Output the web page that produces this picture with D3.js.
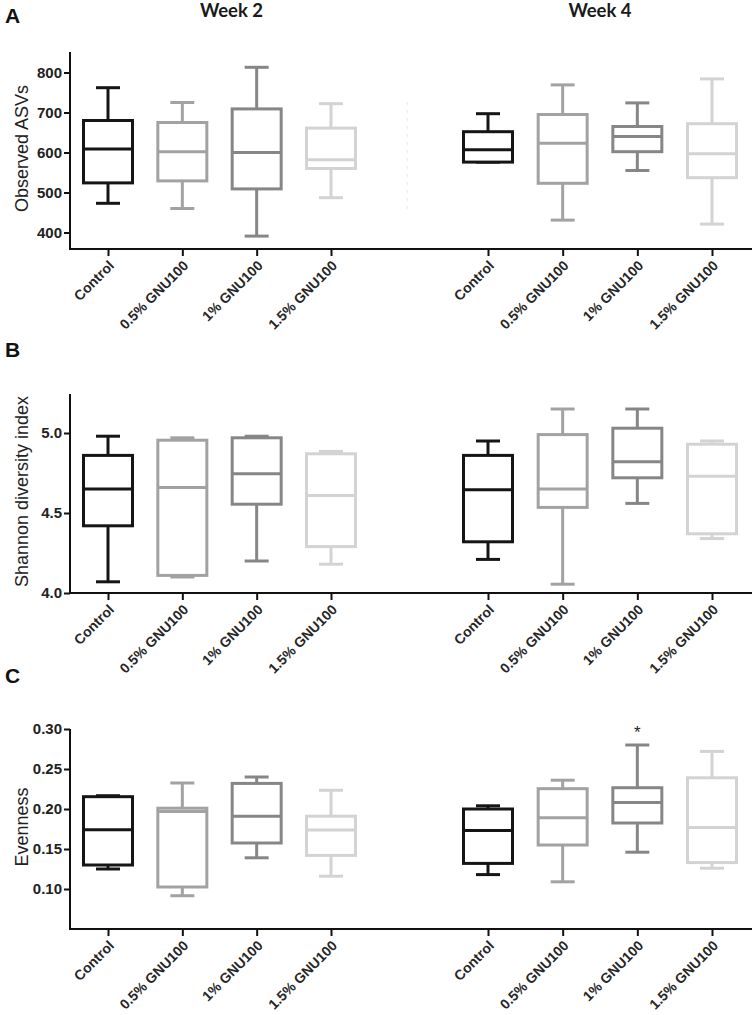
<!DOCTYPE html>
<html><head><meta charset="utf-8">
<script src="https://cdn.jsdelivr.net/npm/d3@7"></script>
<style>body{margin:0;background:#fff}svg{display:block}</style>
</head><body>
<svg id="chart" width="752" height="1015"></svg>
<script>
const categories = ["Control", "0.5% GNU100", "1% GNU100", "1.5% GNU100"];
const weeks = ["Week 2", "Week 4"];
const colors = ["#151515", "#a2a2a2", "#868686", "#d3d3d3"];
// [min, q1, median, q3, max]
const asvWeek2 = [[473,524,609,680,762],[460,529,602,675,725],[391,509,600,709,813],[487,560,582,661,722]];
const asvWeek4 = [[576,576,607,652,697],[431,523,623,695,769],[555,602,640,665,724],[421,537,597,672,784]];
const shannonWeek2 = [[4.07,4.42,4.65,4.86,4.98],[4.10,4.11,4.66,4.955,4.97],[4.20,4.555,4.745,4.97,4.98],[4.18,4.29,4.61,4.87,4.885]];
const shannonWeek4 = [[4.21,4.32,4.645,4.86,4.95],[4.055,4.535,4.65,4.99,5.15],[4.56,4.72,4.82,5.03,5.15],[4.34,4.37,4.73,4.93,4.95]];
const evenWeek2 = [[0.125,0.130,0.174,0.2154,0.2166],[0.0916,0.1025,0.197,0.201,0.2325],[0.139,0.1575,0.191,0.232,0.240],[0.116,0.142,0.1738,0.191,0.2234]];
const evenWeek4 = [[0.118,0.132,0.173,0.200,0.204],[0.109,0.155,0.189,0.2254,0.236],[0.146,0.1825,0.208,0.2266,0.280],[0.126,0.133,0.177,0.239,0.272]];
const asvTicks = [400, 500, 600, 700, 800];
const shannonTicks = [4.0, 4.5, 5.0];
const evenTicks = [0.10, 0.15, 0.20, 0.25, 0.30];
const significance = [{panel: "C", week: 1, cat: 2, label: "*"}];

const svg = d3.select("#chart");
const xW2 = d3.scalePoint().domain(categories).range([108, 331]);
const xW4 = d3.scalePoint().domain(categories).range([488, 712]);
const xScales = [xW2, xW4];
const axisLeftX = 70, axisRightX = 752;
const boxW = 49, capW = 24;

const panels = [
  {id: "A", title: "Observed ASVs", data: [asvWeek2, asvWeek4], ticks: asvTicks, fmt: d3.format("d"),
   y: d3.scaleLinear().domain([400, 800]).range([232.5, 72.5]), top: 52, bottom: 249, letterY: 23},
  {id: "B", title: "Shannon diversity index", data: [shannonWeek2, shannonWeek4], ticks: shannonTicks, fmt: d3.format(".1f"),
   y: d3.scaleLinear().domain([4.0, 5.0]).range([593, 433]), top: 394, bottom: 593, letterY: 357},
  {id: "C", title: "Evenness", data: [evenWeek2, evenWeek4], ticks: evenTicks, fmt: d3.format(".2f"),
   y: d3.scaleLinear().domain([0.10, 0.30]).range([889, 729]), top: 729, bottom: 929, letterY: 683}
];

// week titles
weeks.forEach((w, i) => {
  const xs = xScales[i];
  svg.append("text").attr("x", (xs(categories[0]) + xs(categories[3])) / 2 + (i ? 0 : 12)).attr("y", 17)
    .attr("text-anchor", "middle").attr("font-family", "Lato, 'Liberation Sans', sans-serif")
    .attr("font-weight", "bold").attr("font-size", 18.5).attr("fill", "#1a1a1a").text(w);
});

panels.forEach(p => {
  const g = svg.append("g");
  g.append("text").attr("x", 5).attr("y", p.letterY).attr("font-family", "'Liberation Sans', Arial, sans-serif")
    .attr("font-weight", "bold").attr("font-size", 21).attr("fill", "#111").text(p.id);

  // y axis
  const ax = g.append("g").attr("transform", `translate(${axisLeftX},0)`)
    .call(d3.axisLeft(p.y).tickValues(p.ticks).tickFormat(p.fmt).tickSize(6).tickPadding(2).tickSizeOuter(0));
  ax.select(".domain").remove();
  ax.selectAll(".tick line").attr("stroke", "#111").attr("stroke-width", 2);
  ax.selectAll(".tick text").attr("font-family", "'Liberation Sans', Arial, sans-serif")
    .attr("font-weight", "bold").attr("font-size", 15).attr("fill", "#222");
  g.append("line").attr("x1", axisLeftX).attr("x2", axisLeftX).attr("y1", p.top).attr("y2", p.bottom + 1)
    .attr("stroke", "#111").attr("stroke-width", 2);
  g.append("line").attr("x1", axisLeftX - 1).attr("x2", axisRightX).attr("y1", p.bottom).attr("y2", p.bottom)
    .attr("stroke", "#111").attr("stroke-width", 2);

  // y title
  g.append("text").attr("transform", `translate(28,${(p.top + p.bottom) / 2 - 2}) rotate(-90)`)
    .attr("text-anchor", "middle").attr("font-family", "'Liberation Sans', Arial, sans-serif")
    .attr("font-size", 18).attr("fill", "#222").text(p.title);

  xScales.forEach((xs, wi) => {
    // x axis ticks + labels
    const xa = g.append("g").attr("transform", `translate(0,${p.bottom})`)
      .call(d3.axisBottom(xs).tickSize(7).tickSizeOuter(0));
    xa.select(".domain").remove();
    xa.selectAll(".tick line").attr("stroke", "#111").attr("stroke-width", 2);
    xa.selectAll(".tick text").attr("font-family", "'Liberation Sans', Arial, sans-serif")
      .attr("font-weight", "bold").attr("font-size", 14).attr("fill", "#262626")
      .attr("text-anchor", "end").attr("dy", "0.35em")
      .attr("transform", "translate(3,14) rotate(-45)").attr("y", 0);

    // boxes
    p.data[wi].forEach((s, ci) => {
      const cx = xs(categories[ci]);
      const col = colors[ci];
      const [mn, q1, md, q3, mx] = s;
      const bg = g.append("g").attr("stroke", col).attr("stroke-width", 3).attr("fill", "none");
      bg.append("line").attr("x1", cx).attr("x2", cx).attr("y1", p.y(mx)).attr("y2", p.y(q3));
      bg.append("line").attr("x1", cx).attr("x2", cx).attr("y1", p.y(q1)).attr("y2", p.y(mn));
      bg.append("line").attr("x1", cx - capW / 2).attr("x2", cx + capW / 2).attr("y1", p.y(mx)).attr("y2", p.y(mx));
      bg.append("line").attr("x1", cx - capW / 2).attr("x2", cx + capW / 2).attr("y1", p.y(mn)).attr("y2", p.y(mn));
      bg.append("rect").attr("x", cx - boxW / 2).attr("width", boxW)
        .attr("y", p.y(q3)).attr("height", Math.max(0.1, p.y(q1) - p.y(q3))).attr("fill", "#fff");
      bg.append("line").attr("x1", cx - boxW / 2).attr("x2", cx + boxW / 2).attr("y1", p.y(md)).attr("y2", p.y(md));
    });
  });

  significance.filter(s => s.panel === p.id).forEach(s => {
    const cx = xScales[s.week](categories[s.cat]);
    const top = p.data[s.week][s.cat][4];
    g.append("text").attr("x", cx).attr("y", p.y(top) - 7).attr("text-anchor", "middle")
      .attr("font-family", "'Liberation Sans', Arial, sans-serif").attr("font-size", 17).attr("fill", "#222").text(s.label);
  });
});

// faint axis-break remnant in panel A
svg.append("line").attr("x1", 407).attr("x2", 407).attr("y1", 102).attr("y2", 212)
  .attr("stroke", "#e4e4e4").attr("stroke-width", 1).attr("stroke-dasharray", "3,5");
</script>
</body></html>
